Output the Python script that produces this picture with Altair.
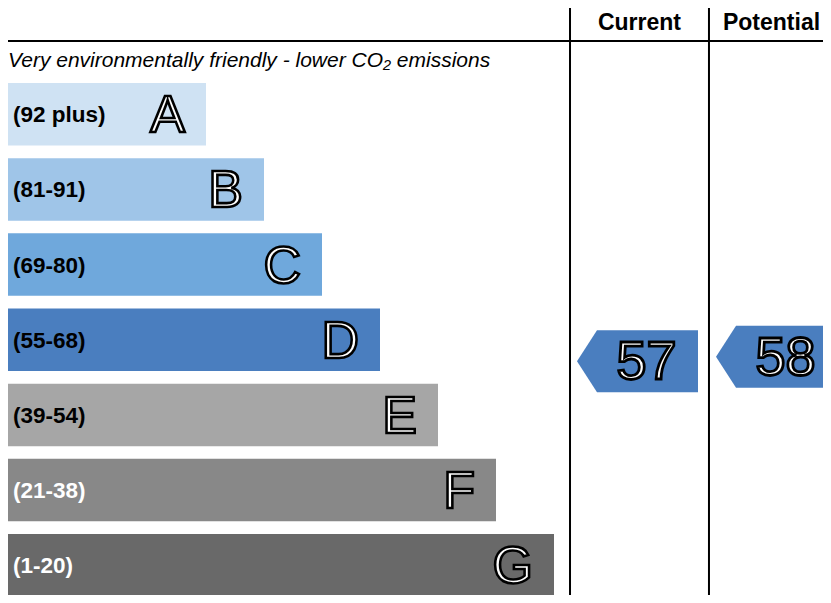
import altair as alt
import pandas as pd

# ---------------- data ----------------
bands = ["A", "B", "C", "D", "E", "F", "G"]
ranges = ["(92 plus)", "(81-91)", "(69-80)", "(55-68)", "(39-54)", "(21-38)", "(1-20)"]
range_lo = [92, 81, 69, 55, 39, 21, 1]
range_hi = [100, 91, 80, 68, 54, 38, 20]
columns = ["Current", "Potential"]
ratings = [57, 58]
subtitle = "Very environmentally friendly - lower CO\u2082 emissions"

# ---------------- styles / layout ----------------
bar_colors = ["#cfe2f3", "#9fc5e8", "#6fa8dc", "#4a7ebf", "#a6a6a6", "#888888", "#696969"]
arrow_color = "#4a7ebf"
FONT = "Liberation Sans"
W, H = 815, 587
UNIT_PX = 58.0      # px per bar-length unit
ROW_PX = 75.17      # px per band row
ORIGIN_X = -5.0     # chart px of x = 0
ORIGIN_Y = 75.0     # chart px of row 0 top
BAR_H = 0.8315      # bar height in row units
X_DOMAIN = [(0 - ORIGIN_X) / UNIT_PX, (W - ORIGIN_X) / UNIT_PX]
Y_DOMAIN = [(0 - ORIGIN_Y) / ROW_PX, (H - ORIGIN_Y) / ROW_PX]
COL_EDGES = [9.776, 12.172]
COL_CENTERS = [10.974, 13.371]
HEAD_CENTERS = [10.974, 13.371 - 7 / UNIT_PX]
HEADER_Y = -0.705
HLINE_Y = -0.5587
SUBTITLE_Y = -0.213

xs = alt.Scale(domain=X_DOMAIN, nice=False, zero=False)
ys = alt.Scale(domain=Y_DOMAIN, nice=False, zero=False, reverse=True)

bars = pd.DataFrame({
    "band": bands,
    "range": ranges,
    "x0": [0.0] * len(bands),
    "len": [3.5 + i for i in range(len(bands))],
    "top": [float(i) for i in range(len(bands))],
    "bottom": [i + BAR_H for i in range(len(bands))],
    "mid": [i + BAR_H / 2 for i in range(len(bands))],
})


def row_pos(score):
    for i, (lo, hi) in enumerate(zip(range_lo, range_hi)):
        if lo <= score <= hi:
            frac = (hi - score + 0.8) / (hi - lo + 1)
            return i + frac * BAR_H
    return 0.0


arrows = pd.DataFrame({
    "col": columns,
    "rating": ratings,
    "xc": COL_CENTERS,
    "y": [row_pos(s) for s in ratings],
})
heads = pd.DataFrame({"col": columns, "xc": HEAD_CENTERS, "y": [HEADER_Y] * 2})
vlines = pd.DataFrame({"x": COL_EDGES})
hline = pd.DataFrame({"y": [HLINE_Y]})
sub = pd.DataFrame({"t": [subtitle], "y": [SUBTITLE_Y]})

color_scale = alt.Scale(domain=bands, range=bar_colors)

rect = alt.Chart(bars).mark_rect(clip=True).encode(
    x=alt.X("x0:Q", scale=xs, axis=None),
    x2="len:Q",
    y=alt.Y("top:Q", scale=ys, axis=None),
    y2="bottom:Q",
    color=alt.Color("band:N", scale=color_scale, legend=None),
)

range_txt = alt.Chart(bars).mark_text(
    align="left", baseline="middle", dx=10, dy=1, font=FONT, fontSize=22.5, fontWeight="bold"
).encode(
    x=alt.X("x0:Q", scale=xs, axis=None),
    y=alt.Y("mid:Q", scale=ys, axis=None),
    text="range:N",
    color=alt.condition(alt.FieldOneOfPredicate(field="band", oneOf=["F", "G"]),
                        alt.value("white"), alt.value("black")),
)

letters = alt.Chart(bars).mark_text(
    align="right", baseline="middle", dx=-21, dy=2, font=FONT, fontSize=52,
    fill="white", stroke="black", strokeWidth=2.6
).encode(
    x=alt.X("len:Q", scale=xs, axis=None),
    y=alt.Y("mid:Q", scale=ys, axis=None),
    text="band:N",
)

arrow_path = "M -1 0 L -0.669 -0.512 L 1 -0.512 L 1 0.512 L -0.669 0.512 Z"
arrow = alt.Chart(arrows).mark_point(
    shape=arrow_path, filled=True, size=121 * 121, color=arrow_color,
    opacity=1, strokeWidth=0, xOffset=-2
).encode(
    x=alt.X("xc:Q", scale=xs, axis=None),
    y=alt.Y("y:Q", scale=ys, axis=None),
)

arrow_txt = alt.Chart(arrows).mark_text(
    align="center", baseline="middle", dx=7, dy=2, font=FONT, fontSize=54,
    fill="white", stroke="black", strokeWidth=2.8
).encode(
    x=alt.X("xc:Q", scale=xs, axis=None),
    y=alt.Y("y:Q", scale=ys, axis=None),
    text="rating:Q",
)

head_txt = alt.Chart(heads).mark_text(
    align="center", baseline="alphabetic", font=FONT, fontSize=23, fontWeight="bold", color="black"
).encode(
    x=alt.X("xc:Q", scale=xs, axis=None),
    y=alt.Y("y:Q", scale=ys, axis=None),
    text="col:N",
)

vrule = alt.Chart(vlines).mark_rule(color="black", strokeWidth=2).encode(
    x=alt.X("x:Q", scale=xs, axis=None),
    y=alt.value(0),
    y2=alt.value(H),
)

hrule = alt.Chart(hline).mark_rule(color="black", strokeWidth=2).encode(
    y=alt.Y("y:Q", scale=ys, axis=None),
    x=alt.value(0),
    x2=alt.value(W),
)

sub_txt = alt.Chart(sub).mark_text(
    align="left", baseline="alphabetic", font=FONT, fontSize=21, fontStyle="italic", color="black"
).encode(
    x=alt.value(0),
    y=alt.Y("y:Q", scale=ys, axis=None),
    text="t:N",
)

chart = alt.layer(
    rect, range_txt, letters, vrule, hrule, arrow, arrow_txt, head_txt, sub_txt
).properties(
    width=W, height=H, autosize=alt.AutoSizeParams(type="none"), padding=0
).configure_view(stroke=None)

chart.save("out.html", embed_options={"renderer": "svg", "actions": False})
